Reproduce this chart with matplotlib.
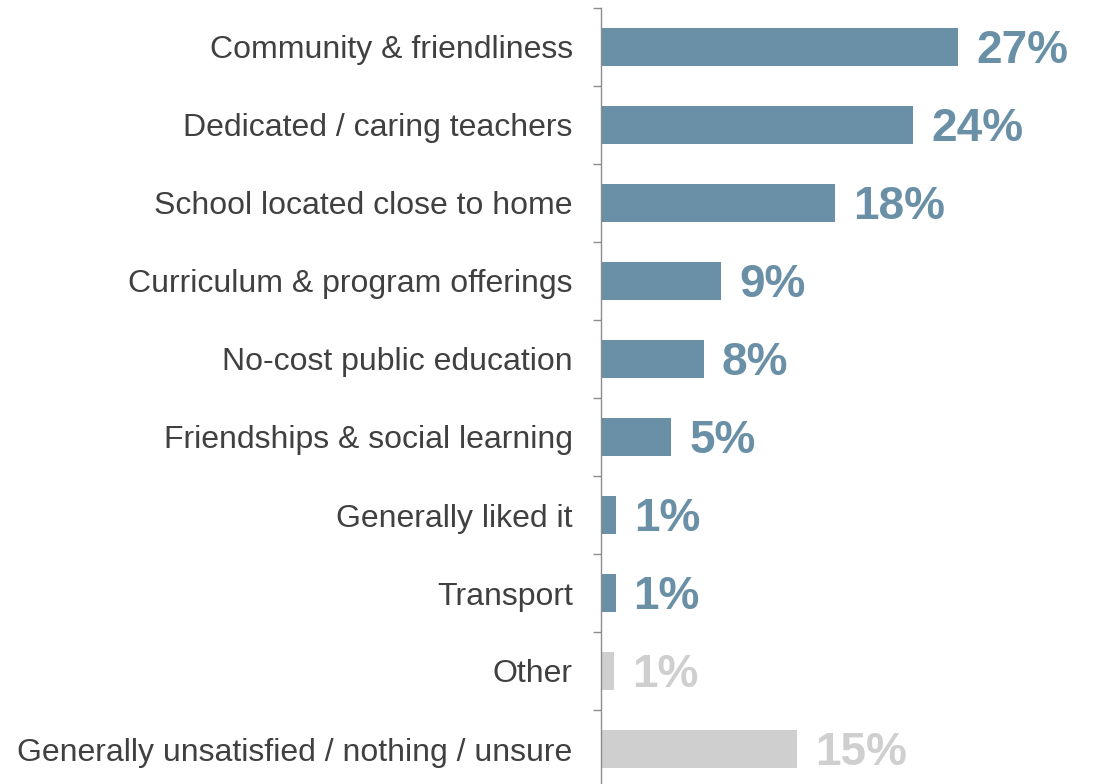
import matplotlib
matplotlib.use("Agg")
import matplotlib.pyplot as plt

categories = [
    "Community & friendliness",
    "Dedicated / caring teachers",
    "School located close to home",
    "Curriculum & program offerings",
    "No-cost public education",
    "Friendships & social learning",
    "Generally liked it",
    "Transport",
    "Other",
    "Generally unsatisfied / nothing / unsure",
]
values = [27.3, 23.9, 17.9, 9.2, 7.9, 5.4, 1.2, 1.15, 1.05, 15.0]
labels = ["27%", "24%", "18%", "9%", "8%", "5%", "1%", "1%", "1%", "15%"]
groups = ["main"] * 8 + ["other"] * 2

colors = {"main": "#6990a6", "other": "#d0cfd0"}
text_dark = "#404040"

plt.rcParams["font.family"] = ["Liberation Sans", "DejaVu Sans"]

fig = plt.figure(figsize=(10.94, 7.84), dpi=100)
left = 600.5 / 1094
ax = fig.add_axes([left, -4 / 784, 1 - left, 780 / 784])

ypos = list(range(len(categories)))
bar_colors = [colors[g] for g in groups]
ax.barh(ypos, values, height=0.48, color=bar_colors)

for y, v, lab, c in zip(ypos, values, labels, bar_colors):
    ax.annotate(lab, xy=(v, y), xytext=(13, -3), textcoords="offset points",
                ha="left", va="center", fontsize=33, fontweight="bold",
                color=c)

ax.set_ylim(len(categories) - 0.5, -0.5)
ax.set_xlim(0, 37.7)

ax.set_yticks(ypos)
ax.set_yticklabels(categories, fontsize=23, color=text_dark)
ax.tick_params(axis="y", which="major", length=0, pad=20)
ax.set_yticks([i - 0.5 for i in range(len(categories) + 1)], minor=True)
ax.tick_params(axis="y", which="minor", length=6, width=1, color="#8c8c8c")
ax.set_xticks([])

for s in ["top", "right", "bottom"]:
    ax.spines[s].set_visible(False)
ax.spines["left"].set_color("#8c8c8c")
ax.spines["left"].set_linewidth(1)

fig.savefig("out.png", dpi=100)
plt.close(fig)
